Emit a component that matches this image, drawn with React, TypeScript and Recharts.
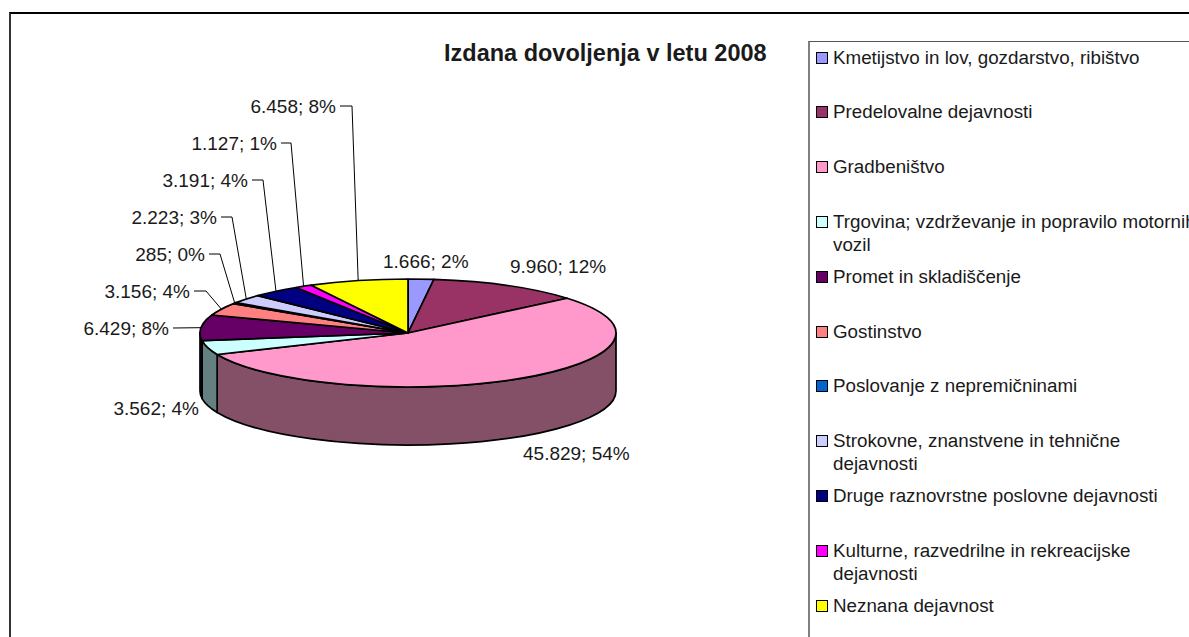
import { PieChart, Pie, Legend } from 'recharts';

const categories = [
  'Kmetijstvo in lov, gozdarstvo, ribištvo',
  'Predelovalne dejavnosti',
  'Gradbeništvo',
  'Trgovina; vzdrževanje in popravilo motornih vozil',
  'Promet in skladiščenje',
  'Gostinstvo',
  'Poslovanje z nepremičninami',
  'Strokovne, znanstvene in tehnične dejavnosti',
  'Druge raznovrstne poslovne dejavnosti',
  'Kulturne, razvedrilne in rekreacijske dejavnosti',
  'Neznana dejavnost',
];
const permits = [1666, 9960, 45829, 3562, 6429, 3156, 285, 2223, 3191, 1127, 6458];
// percentages as printed on the chart, they add up to 100
const printedPercents = [2, 12, 54, 4, 8, 4, 0, 3, 4, 1, 8];
const colors = ['#9999ff', '#993366', '#ff99cc', '#ccffff', '#660066', '#ff8080', '#0066cc', '#ccccff', '#000080', '#ff00ff', '#ffff00'];
const wallColors = ['#4c4c80', '#4c1933', '#845068', '#658080', '#330033', '#804040', '#003366', '#666680', '#000040', '#800080', '#808000'];

// where each label sits: text anchor point, and elbow of the leader line if it has one
const labelSpots: { x: number; y: number; anchor: string; elbow?: number }[] = [
  { x: 383, y: 261, anchor: 'start' },
  { x: 510, y: 266, anchor: 'start' },
  { x: 523, y: 453, anchor: 'start' },
  { x: 199, y: 408, anchor: 'end' },
  { x: 169, y: 328, anchor: 'end', elbow: 173 },
  { x: 190, y: 291, anchor: 'end', elbow: 206 },
  { x: 205, y: 254, anchor: 'end', elbow: 220 },
  { x: 217, y: 217, anchor: 'end', elbow: 232 },
  { x: 248, y: 180, anchor: 'end', elbow: 263 },
  { x: 277, y: 143, anchor: 'end', elbow: 291 },
  { x: 336, y: 106, anchor: 'end', elbow: 352 },
];

const rows = categories.map((name, i) => ({ name, value: permits[i], fill: colors[i], wall: wallColors[i] }));

const FONT = '"Liberation Sans", Arial, sans-serif';
const INK = '#1a1a1a';
const CX = 408;
const CY = 333;
const RX = 208;
const RY = 54;
const DEPTH = 58;
const RAD = Math.PI / 180;

const px = (cx: number, a: number) => cx + RX * Math.cos(a * RAD);
const py = (cy: number, a: number) => cy - RY * Math.sin(a * RAD);

function TopSlice(p: any) {
  const { cx, cy, startAngle, endAngle, fill } = p;
  const large = Math.abs(startAngle - endAngle) > 180 ? 1 : 0;
  const d = `M${cx},${cy} L${px(cx, startAngle)},${py(cy, startAngle)} A${RX},${RY} 0 ${large} 1 ${px(cx, endAngle)},${py(cy, endAngle)} Z`;
  return <path d={d} fill={fill} stroke="#000" strokeWidth={1.7} strokeLinejoin="round" />;
}

// side wall, only the part of the slice that faces the viewer
function WallSlice(p: any) {
  const { cx, cy, startAngle, endAngle, payload } = p;
  const from = Math.min(startAngle, 0);
  const to = Math.max(endAngle, -180);
  if (from <= to) return <g />;
  const large = from - to > 180 ? 1 : 0;
  const d =
    `M${px(cx, from)},${py(cy, from)} A${RX},${RY} 0 ${large} 1 ${px(cx, to)},${py(cy, to)} ` +
    `L${px(cx, to)},${py(cy, to) + DEPTH} A${RX},${RY} 0 ${large} 0 ${px(cx, from)},${py(cy, from) + DEPTH} Z`;
  return <path d={d} fill={payload.wall} stroke="#000" strokeWidth={1.7} strokeLinejoin="round" />;
}

function SliceLabel(p: any) {
  const { cx, cy, midAngle, value, index } = p;
  const spot = labelSpots[index];
  const text = `${value.toLocaleString('de-DE')}; ${printedPercents[index]}%`;
  return (
    <g>
      {spot.elbow !== undefined && (
        <polyline
          points={`${spot.x + 4},${spot.y} ${spot.elbow},${spot.y} ${px(cx, midAngle)},${py(cy, midAngle)}`}
          fill="none"
          stroke="#000"
          strokeWidth={1}
        />
      )}
      <text x={spot.x} y={spot.y} textAnchor={spot.anchor} dominantBaseline="central" fontSize={19} fontFamily={FONT} fill={INK}>
        {text}
      </text>
    </g>
  );
}

function LegendBox({ payload }: any) {
  // both pies report to the legend, the walls come first and repeat the same names
  const items = (payload ?? []).slice(0, categories.length);
  return (
    <div style={{ border: '1px solid #555', borderLeftWidth: 2, borderLeftColor: '#808080', height: 700, width: 500, boxSizing: 'border-box', fontFamily: FONT, fontSize: 18.8, lineHeight: '23px', color: INK }}>
      {items.map((item: any, i: number) => (
        <div key={i} style={{ position: 'absolute', left: 8, top: 4.5 + i * 54.8, display: 'flex', width: 400 }}>
          <span style={{ width: 10, height: 10, marginTop: 6, border: '1px solid #000', background: item.color, flexShrink: 0 }} />
          <span style={{ marginLeft: 5, width: 372 }}>{item.value}</span>
        </div>
      ))}
    </div>
  );
}

export default function App() {
  return (
    <div style={{ position: 'absolute', left: 0, top: 0, width: 1189, height: 637, overflow: 'hidden', background: '#fff' }}>
      <div style={{ position: 'absolute', left: 9, top: 12, width: 1300, height: 800, borderTop: '2px solid #000', borderLeft: '2px solid #333' }} />
      <PieChart width={1189} height={637} margin={{ top: 0, right: 0, bottom: 0, left: 0 }} style={{ position: 'absolute', left: 0, top: 0 }}>
        <text x={444} y={53} fontSize={23.5} fontWeight="bold" fontFamily={FONT} dominantBaseline="central" fill={INK}>
          Izdana dovoljenja v letu 2008
        </text>
        <Pie
          data={rows}
          dataKey="value"
          nameKey="name"
          cx={CX}
          cy={CY}
          outerRadius={RX}
          startAngle={90}
          endAngle={-270}
          shape={WallSlice}
          legendType="none"
          isAnimationActive={false}
        />
        <Pie
          data={rows}
          dataKey="value"
          nameKey="name"
          cx={CX}
          cy={CY}
          outerRadius={RX}
          startAngle={90}
          endAngle={-270}
          shape={TopSlice}
          label={SliceLabel}
          labelLine={false}
          isAnimationActive={false}
        />
        <Legend content={LegendBox} itemSorter={null} wrapperStyle={{ left: 808, top: 41, width: 500, height: 700 }} />
      </PieChart>
    </div>
  );
}
